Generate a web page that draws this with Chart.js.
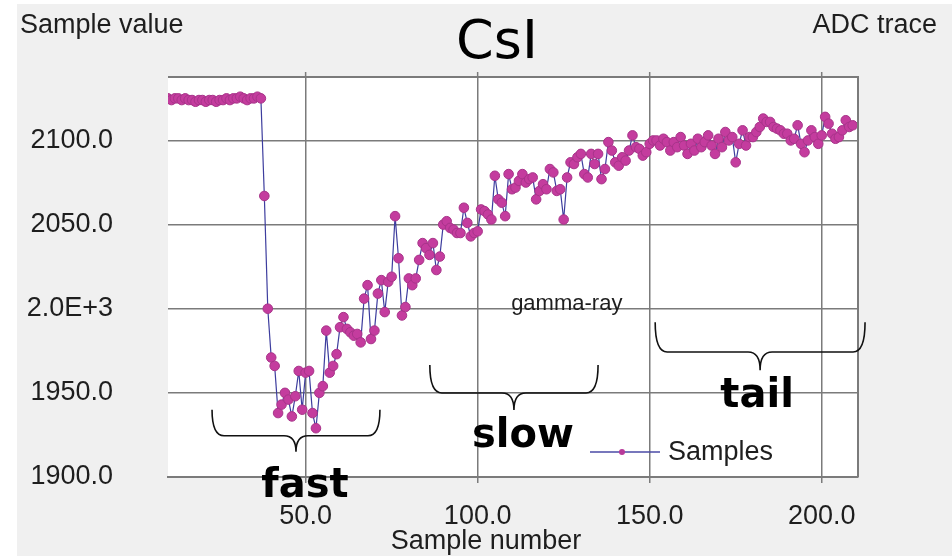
<!DOCTYPE html>
<html>
<head>
<meta charset="utf-8">
<title>CsI ADC trace</title>
<script src="https://cdn.jsdelivr.net/npm/chart.js@4.4.1/dist/chart.umd.min.js"></script>
<style>
  html, body { margin: 0; padding: 0; background: #fff; }
  #wrap { width: 952px; height: 559px; }
</style>
</head>
<body>
<div id="wrap"><canvas id="trace" width="952" height="559"></canvas></div>
<script>
// ADC samples of one CsI pulse, split by pulse region
const firstSample = 10;
const preTrigger = [2125, 2124, 2125, 2125, 2124, 2125, 2124, 2124, 2123, 2124,
    2124, 2123, 2124, 2124, 2123, 2124, 2124, 2125, 2124, 2125,
    2125, 2126, 2125, 2124, 2125, 2125, 2126, 2125];
const fastPart = [2067, 2000, 1971, 1966, 1938, 1943, 1950, 1946, 1936, 1948, 1963, 1940,
    1962, 1963, 1938, 1929, 1950, 1954, 1987, 1962, 1966, 1973,
    1989, 1995, 1988, 1986, 1984, 1985, 1980, 2006, 2014, 1982,
    1987, 2009, 2017, 1998, 2016, 2019, 2055, 2030, 1996, 2001];
const slowPart = [2018, 2014, 2018, 2029, 2039, 2036, 2032, 2039, 2023, 2031,
    2050, 2052, 2048, 2047, 2045, 2045, 2060, 2051, 2043, 2045,
    2046, 2059, 2058, 2056, 2053, 2079, 2065, 2063, 2055, 2080,
    2071, 2072, 2076, 2080, 2075, 2077, 2078, 2065, 2070, 2074,
    2071, 2083, 2081, 2070, 2071, 2053, 2078, 2087, 2086, 2090,
    2092, 2080, 2078, 2092, 2086, 2092, 2077, 2083, 2099, 2094,
    2087, 2085, 2090, 2088, 2094, 2103, 2096, 2095, 2091, 2093];
const tailPart = [2098, 2100, 2100, 2097, 2101, 2099, 2094, 2099, 2096, 2102,
    2097, 2092, 2098, 2094, 2101, 2096, 2099, 2103, 2097, 2092,
    2101, 2096, 2105, 2100, 2102, 2087, 2098, 2106, 2097, 2102,
    2102, 2105, 2108, 2113, 2111, 2111, 2108, 2107, 2106, 2104,
    2104, 2100, 2101, 2109, 2098, 2093, 2100, 2106, 2102, 2098,
    2103, 2114, 2110, 2104, 2101, 2102, 2106, 2112, 2108, 2109];

const xTicks = [50, 100, 150, 200];
const yTicks = [1900, 1950, 2000, 2050, 2100];

// braces under the trace: sample range and ADC value of the brace top
const regions = [
    { name: 'fast', from: 22.8, to: 71.6, top: 1940.0 },
    { name: 'slow', from: 86.1, to: 135.0, top: 1966.5 },
    { name: 'tail', from: 151.6, to: 212.6, top: 1992.0 },
];

const adcValues = preTrigger.concat(fastPart, slowPart, tailPart);
const points = adcValues.map((v, i) => ({ x: firstSample + i, y: v }));

const SANS = "'Liberation Sans', Arial, sans-serif";
const GRID = '#7b7b7b';
const TXT = '#1e1e1e';

// brace depth and label placement (px)
const braceStyle = {
    fast: { depth: 42, dx: 9, dy: 45 },
    slow: { depth: 45, dx: 9, dy: 37 },
    tail: { depth: 48, dx: -3, dy: 37 },
};

function drawBrace(ctx, x1, x2, y, depth) {
    let mid = (x1 + x2) / 2;
    let yl = y + depth * 0.62;
    let tip = y + depth;
    ctx.beginPath();
    ctx.moveTo(x1, y);
    ctx.quadraticCurveTo(x1, yl, x1 + 12, yl);
    ctx.lineTo(mid - 12, yl);
    ctx.quadraticCurveTo(mid, yl, mid, tip);
    ctx.quadraticCurveTo(mid, yl, mid + 12, yl);
    ctx.lineTo(x2 - 12, yl);
    ctx.quadraticCurveTo(x2, yl, x2, y);
    ctx.stroke();
    return { x: mid, y: tip };
}

const decor = {
    id: 'decor',
    beforeDraw(chart) {
        const { ctx, chartArea: a, width, height } = chart;
        ctx.save();
        ctx.fillStyle = '#ffffff';
        ctx.fillRect(0, 0, width, height);
        ctx.fillStyle = '#f0f0f0';
        ctx.fillRect(17, 4, width - 17, height - 7);
        ctx.fillStyle = '#ffffff';
        ctx.fillRect(a.left, a.top, a.right - a.left, a.bottom - a.top);
        ctx.restore();
    },
    afterDraw(chart) {
        const { ctx, chartArea: a } = chart;
        const xs = chart.scales.x, ys = chart.scales.y;
        ctx.save();

        // top and right frame
        ctx.strokeStyle = GRID;
        ctx.lineWidth = 2;
        ctx.beginPath();
        ctx.moveTo(a.left, a.top);
        ctx.lineTo(a.right, a.top);
        ctx.lineTo(a.right, a.bottom);
        ctx.stroke();
        ctx.lineWidth = 1.5;
        xTicks.forEach((t) => {
            let px = xs.getPixelForValue(t);
            ctx.beginPath();
            ctx.moveTo(px, a.top - 5);
            ctx.lineTo(px, a.top);
            ctx.stroke();
        });

        // texts
        ctx.fillStyle = TXT;
        ctx.font = '27px ' + SANS;
        ctx.textBaseline = 'alphabetic';
        ctx.textAlign = 'left';
        ctx.fillText('Sample value', 20, 33);
        ctx.textAlign = 'right';
        ctx.fillText('ADC trace', 937, 33);
        ctx.textAlign = 'center';
        ctx.fillText('Sample number', 486, 549);
        ctx.font = "54px 'DejaVu Sans', sans-serif";
        ctx.fillStyle = '#000';
        ctx.fillText('CsI', 497, 58);

        ctx.font = '22px ' + SANS;
        ctx.fillStyle = TXT;
        ctx.textBaseline = 'middle';
        ctx.fillText('gamma-ray', xs.getPixelForValue(125.9), ys.getPixelForValue(2003));

        // legend
        let ly = 452;
        ctx.strokeStyle = '#4a4aa6';
        ctx.lineWidth = 1.5;
        ctx.beginPath();
        ctx.moveTo(590, ly);
        ctx.lineTo(660, ly);
        ctx.stroke();
        ctx.fillStyle = '#b8399a';
        ctx.beginPath();
        ctx.arc(622, ly, 3, 0, Math.PI * 2);
        ctx.fill();
        ctx.fillStyle = TXT;
        ctx.font = '27px ' + SANS;
        ctx.textAlign = 'left';
        ctx.textBaseline = 'alphabetic';
        ctx.fillText('Samples', 668, 460);

        // braces with region names
        ctx.strokeStyle = '#111';
        ctx.lineWidth = 1.6;
        ctx.fillStyle = '#000';
        ctx.font = "bold 40px 'DejaVu Sans', sans-serif";
        ctx.textAlign = 'center';
        regions.forEach((r) => {
            let st = braceStyle[r.name];
            let tip = drawBrace(ctx, xs.getPixelForValue(r.from), xs.getPixelForValue(r.to),
                ys.getPixelForValue(r.top), st.depth);
            ctx.fillText(r.name, tip.x + st.dx, tip.y + st.dy);
        });
        ctx.restore();
    },
};

Chart.defaults.font.family = SANS;
Chart.defaults.color = TXT;

new Chart(document.getElementById('trace'), {
    type: 'line',
    data: {
        datasets: [{
            label: 'Samples',
            data: points,
            borderColor: '#3d3d9e',
            borderWidth: 1.2,
            pointRadius: 4.8,
            pointBackgroundColor: '#c43c9e',
            pointBorderColor: '#a8348a',
            pointBorderWidth: 1,
            tension: 0,
        }],
    },
    options: {
        responsive: false,
        animation: false,
        events: [],
        layout: { padding: { top: 77, right: 94, left: 0, bottom: 0 } },
        plugins: { legend: { display: false }, tooltip: { enabled: false } },
        scales: {
            x: {
                type: 'linear',
                min: 10,
                max: 210.55,
                afterBuildTicks: (s) => { s.ticks = xTicks.map((v) => ({ value: v })); },
                afterFit: (s) => { s.height = 559 - 477; },
                ticks: {
                    font: { size: 27 },
                    color: TXT,
                    padding: 17,
                    maxRotation: 0,
                    callback: (v) => v.toFixed(1),
                },
                grid: { color: GRID, lineWidth: 1.5, drawTicks: true, tickLength: 6 },
                border: { display: true, color: GRID, width: 2 },
            },
            y: {
                min: 1900,
                max: 2137.7,
                afterBuildTicks: (s) => { s.ticks = yTicks.map((v) => ({ value: v })); },
                afterFit: (s) => { s.width = 168; },
                ticks: {
                    font: { size: 27 },
                    color: TXT,
                    padding: 55,
                    callback: (v) => (v === 2000 ? '2.0E+3' : v.toFixed(1)),
                },
                grid: { color: GRID, lineWidth: 1.5, drawTicks: false },
                border: { display: false },
            },
        },
    },
    plugins: [decor],
});
</script>
</body>
</html>
